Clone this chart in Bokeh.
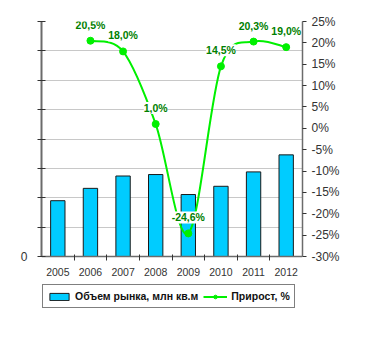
from bokeh.plotting import figure
from bokeh.models import (Range1d, LinearAxis, FixedTicker, ColumnDataSource, LabelSet,
                          Legend, LegendItem, PrintfTickFormatter, CustomJSTickFormatter)
from bokeh.core.properties import value
from bokeh.embed import file_html
from bokeh.resources import INLINE

years = ["2005", "2006", "2007", "2008", "2009", "2010", "2011", "2012"]
volume = [1.90, 2.32, 2.74, 2.79, 2.11, 2.39, 2.88, 3.46]
growth_years = ["2006", "2007", "2008", "2009", "2010", "2011", "2012"]
growth = [20.5, 18.0, 1.0, -24.6, 14.5, 20.3, 19.0]
left_ticks = [0, 1, 2, 3, 4, 5, 6, 7, 8]
right_ticks = [-30, -25, -20, -15, -10, -5, 0, 5, 10, 15, 20, 25]

FONT = "Liberation Sans"
AXIS_COL = "#6b6b6b"
GREEN = "#00F000"

# layout: plotting area 261x235 px, plus a strip below it used by the legend
PLOT_W, PLOT_H, STRIP_B = 261, 235, 58
l_lo, l_hi = left_ticks[0], left_ticks[-1]
r_lo, r_hi = right_ticks[0], right_ticks[-1]
l_ext = STRIP_B * (l_hi - l_lo) / PLOT_H
r_ext = STRIP_B * (r_hi - r_lo) / PLOT_H
nx = len(years)

xpos = [i + 0.5 for i in range(nx)]
gx = [xpos[years.index(y)] for y in growth_years]

p = figure(frame_width=PLOT_W, frame_height=PLOT_H + STRIP_B,
           x_range=Range1d(0, nx), y_range=Range1d(l_lo - l_ext, l_hi),
           output_backend="svg", toolbar_location=None,
           min_border_left=41, min_border_top=21, min_border_right=10, min_border_bottom=10,
           background_fill_color="white", border_fill_color="white")
p.outline_line_color = None
p.extra_y_ranges = {"pct": Range1d(r_lo - r_ext, r_hi)}

# grid
p.xgrid.grid_line_color = None
p.ygrid.grid_line_color = "#c8c8c8"
p.ygrid.grid_line_width = 1

# x axis (drawn at the zero line)
xa = p.xaxis[0]
xa.fixed_location = 0
xa.ticker = FixedTicker(ticks=xpos, minor_ticks=list(range(1, nx)))
xa.formatter = CustomJSTickFormatter(args=dict(years=years),
                                     code="const i = Math.floor(tick); return years[i] || '';")
xa.major_tick_in = 0
xa.major_tick_out = 0
xa.minor_tick_in = 2
xa.minor_tick_out = 4
xa.minor_tick_line_color = "#333333"
xa.axis_line_color = AXIS_COL
xa.axis_line_width = 1.5
xa.major_label_text_font = FONT
xa.major_label_text_font_size = "10.5px"
xa.major_label_text_color = "#333333"
xa.major_label_standoff = 7

# left axis
ya = p.yaxis[0]
ya.bounds = (l_lo, l_hi)
ya.ticker = FixedTicker(ticks=left_ticks)
ya.major_label_overrides = {t: "" for t in left_ticks if t != 0}
ya.minor_tick_line_color = None
ya.major_tick_in = 4
ya.major_tick_out = 4
ya.major_tick_line_color = "#333333"
ya.axis_line_color = AXIS_COL
ya.axis_line_width = 2
ya.major_label_text_font = FONT
ya.major_label_text_font_size = "12px"
ya.major_label_text_color = "#333333"
ya.major_label_standoff = 10

# right axis
ra = LinearAxis(y_range_name="pct", ticker=FixedTicker(ticks=right_ticks),
                formatter=PrintfTickFormatter(format="%d%%"), bounds=(r_lo, r_hi))
ra.minor_tick_line_color = None
ra.major_tick_in = 0
ra.major_tick_out = 4
ra.major_tick_line_color = "#333333"
ra.axis_line_color = AXIS_COL
ra.axis_line_width = 1.5
ra.major_label_text_font = FONT
ra.major_label_text_font_size = "12px"
ra.major_label_text_color = "#333333"
ra.major_label_standoff = 5
p.add_layout(ra, "right")

# bars
bars = p.vbar(x=xpos, top=volume, bottom=0, width=0.44,
              fill_color="#00CCFF", line_color="#1a1a1a", line_width=1)

# smoothed line via bezier segments
n = len(gx)
x0, y0, x1, y1, cx0, cy0, cx1, cy1 = ([] for _ in range(8))
for i in range(n - 1):
    a = max(i - 1, 0)
    d = min(i + 2, n - 1)
    x0.append(gx[i]); y0.append(growth[i])
    x1.append(gx[i + 1]); y1.append(growth[i + 1])
    cx0.append(gx[i] + (gx[i + 1] - gx[a]) / 6)
    cy0.append(growth[i] + (growth[i + 1] - growth[a]) / 6)
    cx1.append(gx[i + 1] - (gx[d] - gx[i]) / 6)
    cy1.append(growth[i + 1] - (growth[d] - growth[i]) / 6)
curve = p.bezier(x0=x0, y0=y0, x1=x1, y1=y1, cx0=cx0, cy0=cy0, cx1=cx1, cy1=cy1,
                 y_range_name="pct", line_color=GREEN, line_width=2)
marks = p.scatter(x=gx, y=growth, size=7, marker="circle", y_range_name="pct",
                  fill_color=GREEN, line_color=GREEN)

labels_text = [("%.1f" % v).replace(".", ",") + "%" for v in growth]
lsrc = ColumnDataSource(dict(x=gx, y=growth, t=labels_text))
lbl = LabelSet(x="x", y="y", text="t", source=lsrc, y_range_name="pct",
               y_offset=16, text_align="center", text_baseline="middle",
               text_font=value(FONT), text_font_size=value("10.5px"),
               text_font_style="bold",
               text_color="#008000", background_fill_color="white")
p.add_layout(lbl)

legend = Legend(items=[LegendItem(label="Объем рынка, млн кв.м", renderers=[bars]),
                       LegendItem(label="Прирост, %", renderers=[curve, marks])],
                orientation="horizontal", location=(1, 6),
                border_line_color="black", border_line_width=1,
                background_fill_color="white", background_fill_alpha=1,
                label_text_font=FONT, label_text_font_size="10.5px",
                label_text_font_style="bold", label_text_color="#111111",
                glyph_width=24, glyph_height=9, label_standoff=4, spacing=5,
                padding=4, margin=0, label_height=14)
p.add_layout(legend, "center")

open("out.html", "w").write(file_html(p, INLINE))
